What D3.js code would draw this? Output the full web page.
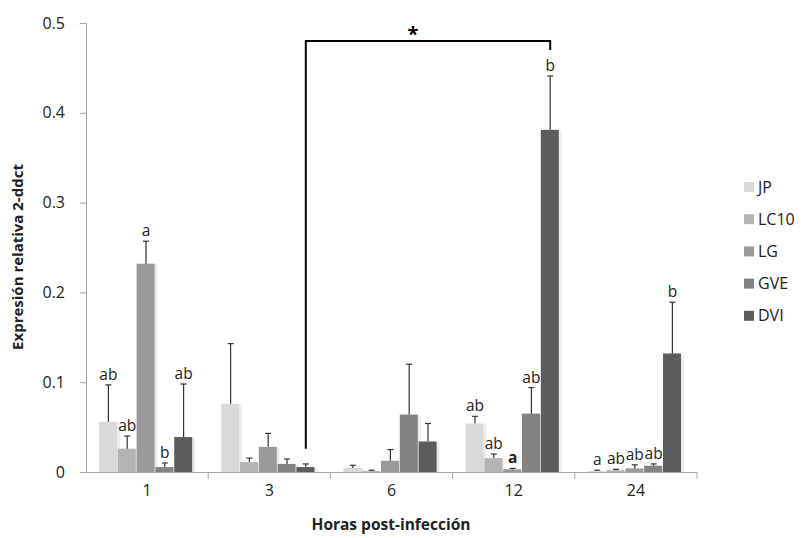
<!DOCTYPE html>
<html>
<head>
<meta charset="utf-8">
<script src="https://cdn.jsdelivr.net/npm/d3@7"></script>
<style>
  body { margin: 0; background: #fff; }
  svg { font-family: "Open Sans", "DejaVu Sans", sans-serif; }
</style>
</head>
<body>
<svg id="chart"></svg>
<script>
// categories and series
const hours = ["1", "3", "6", "12", "24"];
const series = ["JP", "LC10", "LG", "GVE", "DVI"];
const colors = ["#d9d9d9", "#b3b3b3", "#9a9a9a", "#828282", "#5c5c5c"];

// mean values per series (one per hour)
const JP   = [0.056, 0.076, 0.0045, 0.054, 0.001];
const LC10 = [0.026, 0.011, 0.001, 0.0155, 0.002];
const LG   = [0.232, 0.028, 0.0125, 0.003, 0.004];
const GVE  = [0.0055, 0.009, 0.064, 0.065, 0.007];
const DVI  = [0.039, 0.0055, 0.034, 0.381, 0.132];

// upper error (bar + sd)
const JPerr   = [0.097, 0.143, 0.0075, 0.062, 0.002];
const LC10err = [0.040, 0.0155, 0.002, 0.020, 0.003];
const LGerr   = [0.257, 0.043, 0.025, 0.004, 0.008];
const GVEerr  = [0.010, 0.0145, 0.120, 0.094, 0.009];
const DVIerr  = [0.098, 0.009, 0.054, 0.441, 0.189];

// significance letters
const JPlab   = ["ab", "", "", "ab", "a"];
const LC10lab = ["ab", "", "", "ab", "ab"];
const LGlab   = ["a", "", "", "a", "ab"];
const GVElab  = ["b", "", "", "ab", "ab"];
const DVIlab  = ["ab", "", "", "b", "b"];

const yTicks = [0, 0.1, 0.2, 0.3, 0.4, 0.5];

// bracket between 3 h DVI and 12 h DVI
const bracket = { from: "3", to: "12", top: 0.48, leftEnd: 0.026, rightEnd: 0.47 };

const values = [JP, LC10, LG, GVE, DVI];
const errs = [JPerr, LC10err, LGerr, GVEerr, DVIerr];
const labs = [JPlab, LC10lab, LGlab, GVElab, DVIlab];

const rows = [];
series.forEach((s, i) => {
  hours.forEach((h, j) => {
    rows.push({ s: s, h: h, v: values[i][j], e: errs[i][j], lab: labs[i][j], c: colors[i] });
  });
});

const width = 802, height = 538;
const svg = d3.select("#chart").attr("width", width).attr("height", height);

const x0 = d3.scaleBand().domain(hours).range([86, 697]);
const x1 = d3.scaleBand().domain(series).range([13, 107]);
const y = d3.scaleLinear().domain([0, 0.5]).range([472, 23]);

// y axis
const yAxis = svg.append("g")
  .attr("transform", "translate(86,0)")
  .call(d3.axisLeft(y).tickValues(yTicks).tickSize(6).tickPadding(15)
    .tickFormat(d => d === 0 ? "0" : d3.format(".1f")(d)));
yAxis.selectAll("path, line").attr("stroke", "#a6a6a6");
yAxis.selectAll("text").attr("font-size", 16).attr("fill", "#222")
  .attr("font-family", "'Open Sans', sans-serif");
yAxis.select(".domain").attr("d", "M-6,23.5H0.5V472.5");

// x axis
const xAxis = svg.append("g")
  .attr("transform", "translate(0,472)")
  .call(d3.axisBottom(x0).tickSize(0).tickPadding(13));
xAxis.select(".domain").attr("stroke", "#a6a6a6").attr("d", "M80,0.5H697");
xAxis.selectAll("text").attr("font-size", 16).attr("fill", "#222")
  .attr("font-family", "'Open Sans', sans-serif");
// boundary ticks between categories
svg.append("g").selectAll("line")
  .data(hours.slice(1).concat(["end"]))
  .enter().append("line")
  .attr("x1", (d, i) => x0.range()[0] + x0.bandwidth() * (i + 1))
  .attr("x2", (d, i) => x0.range()[0] + x0.bandwidth() * (i + 1))
  .attr("y1", 472).attr("y2", 479)
  .attr("stroke", "#a6a6a6");

// bar shadows
svg.append("g").selectAll("rect")
  .data(rows).enter().append("rect")
  .attr("x", d => x0(d.h) + x1(d.s) + 2)
  .attr("y", d => y(d.v) + 1)
  .attr("width", x1.bandwidth())
  .attr("height", d => 472 - y(d.v) - 1)
  .attr("fill", "#ececec");

// bars
svg.append("g").selectAll("rect")
  .data(rows).enter().append("rect")
  .attr("x", d => x0(d.h) + x1(d.s))
  .attr("y", d => y(d.v))
  .attr("width", x1.bandwidth() - 0.8)
  .attr("height", d => 472 - y(d.v))
  .attr("fill", d => d.c);

// error bars
const eb = svg.append("g").attr("stroke", "#333").attr("stroke-width", 1.2);
rows.forEach(d => {
  const cx = x0(d.h) + x1(d.s) + x1.bandwidth() / 2;
  eb.append("line").attr("x1", cx).attr("x2", cx).attr("y1", y(d.v)).attr("y2", y(d.e));
  eb.append("line").attr("x1", cx - 3).attr("x2", cx + 3).attr("y1", y(d.e)).attr("y2", y(d.e));
});

// letters
svg.append("g").selectAll("text")
  .data(rows.filter(d => d.lab !== "")).enter().append("text")
  .attr("x", d => x0(d.h) + x1(d.s) + x1.bandwidth() / 2)
  .attr("y", d => y(d.e) - 5)
  .attr("text-anchor", "middle")
  .attr("font-size", 15.5)
  .attr("fill", "#222")
  .attr("font-weight", d => (d.h === "12" && d.s === "LG") ? "bold" : "normal")
  .text(d => d.lab);

// significance bracket
const bx1 = x0(bracket.from) + x1("DVI") + x1.bandwidth() / 2;
const bx2 = x0(bracket.to) + x1("DVI") + x1.bandwidth() / 2;
svg.append("path")
  .attr("d", `M${bx1},${y(bracket.leftEnd)}V${y(bracket.top)}H${bx2}V${y(bracket.rightEnd)}`)
  .attr("fill", "none").attr("stroke", "#000").attr("stroke-width", 2);
svg.append("text")
  .attr("x", (bx1 + bx2) / 2 - 15).attr("y", y(bracket.top))
  .attr("text-anchor", "middle").attr("font-size", 20).attr("font-weight", "bold")
  .text("*");

// axis titles
svg.append("text")
  .attr("x", 391).attr("y", 530)
  .attr("text-anchor", "middle").attr("font-size", 15.5).attr("font-weight", "bold")
  .attr("fill", "#222")
  .text("Horas post-infección");
svg.append("text")
  .attr("transform", "translate(23,257) rotate(-90)")
  .attr("text-anchor", "middle").attr("font-size", 15).attr("font-weight", "bold")
  .attr("fill", "#222")
  .text("Expresión relativa 2-ddct");

// legend
const legend = svg.append("g").selectAll("g")
  .data(series).enter().append("g")
  .attr("transform", (d, i) => `translate(744,${187 + i * 32.2})`);
legend.append("rect").attr("x", 0).attr("y", -5).attr("width", 10).attr("height", 10)
  .attr("fill", (d, i) => colors[i]);
legend.append("text").attr("x", 14).attr("y", 0).attr("dy", "0.35em")
  .attr("font-size", 16).attr("fill", "#222").text(d => d);
</script>
</body>
</html>
